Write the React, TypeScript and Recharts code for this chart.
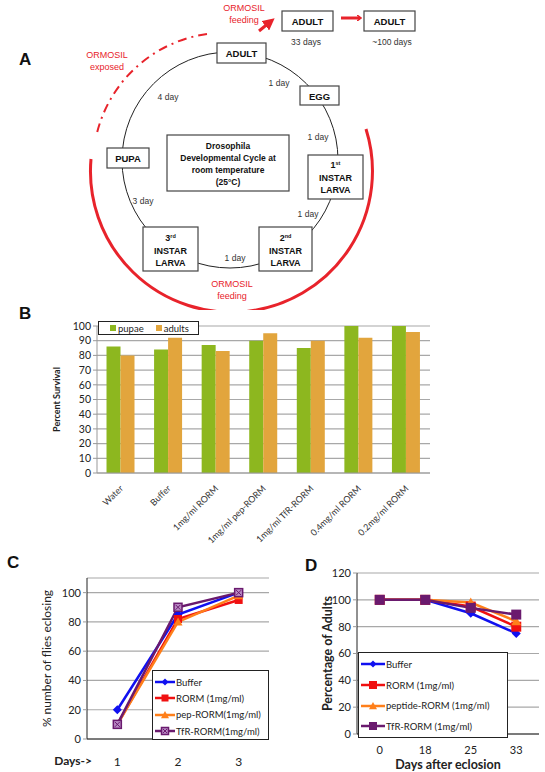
import React from 'react';
import {
    BarChart, Bar, LineChart, Line, XAxis, YAxis, CartesianGrid, Legend
} from 'recharts';

// Panel B - survival
const survivalCategories = ['Water', 'Buffer', '1mg/ml RORM', '1mg/ml pep-RORM', '1mg/ml TfR-RORM', '0.4mg/ml RORM', '0.2mg/ml RORM'];
const pupaeSurvival = [86, 84, 87, 90, 85, 100, 100];
const adultsSurvival = [80, 92, 83, 95, 90, 92, 96];
const survivalTicks = [0, 10, 20, 30, 40, 50, 60, 70, 80, 90, 100];

// Panel C - eclosion
const eclosionDays = ['1', '2', '3'];
const eclosionBuffer = [20, 85, 100];
const eclosionRorm = [10, 82, 95];
const eclosionPepRorm = [10, 80, 98];
const eclosionTfrRorm = [10, 90, 100];
const eclosionTicks = [0, 20, 40, 60, 80, 100];

// Panel D - adult survival
const adultDays = ['0', '18', '25', '33'];
const adultBuffer = [100, 100, 90, 75];
const adultRorm = [100, 100, 95, 80];
const adultPeptideRorm = [100, 100, 98, 84];
const adultTfrRorm = [100, 100, 94, 89];
const adultTicks = [0, 20, 40, 60, 80, 100, 120];

const survivalData = survivalCategories.map((name, i) => ({ name, pupae: pupaeSurvival[i], adults: adultsSurvival[i] }));
const eclosionData = eclosionDays.map((day, i) => ({
    day, buffer: eclosionBuffer[i], rorm: eclosionRorm[i], pep: eclosionPepRorm[i], tfr: eclosionTfrRorm[i]
}));
const adultData = adultDays.map((day, i) => ({
    day, buffer: adultBuffer[i], rorm: adultRorm[i], pep: adultPeptideRorm[i], tfr: adultTfrRorm[i]
}));

const BLUE = '#1010f0';
const RED = '#f01010';
const ORANGE = '#ff7f1a';
const PURPLE = '#6a1a6e';
const RED_DIAGRAM = '#e8232b';
const CHART_FONT = 'Lato, "Open Sans", sans-serif';
const DIAG_FONT = '"Liberation Sans", Arial, sans-serif';

// markers
const marker = (shape: string, color: string, size: number) => (props: any) => {
    const { cx, cy, index } = props;
    if (cx == null || cy == null) return <g key={index} />;
    const h = size / 2;
    if (shape === 'diamond') {
        return <polygon key={index} points={`${cx},${cy - h} ${cx + h},${cy} ${cx},${cy + h} ${cx - h},${cy}`} fill={color} />;
    }
    if (shape === 'triangle') {
        return <polygon key={index} points={`${cx},${cy - h} ${cx + h},${cy + h * 0.8} ${cx - h},${cy + h * 0.8}`} fill={color} />;
    }
    if (shape === 'xsquare') {
        return (
            <g key={index}>
                <rect x={cx - h} y={cy - h} width={size} height={size} fill="#b98ac4" stroke={color} strokeWidth={1.5} />
                <path d={`M${cx - h + 1.5},${cy - h + 1.5}L${cx + h - 1.5},${cy + h - 1.5}M${cx + h - 1.5},${cy - h + 1.5}L${cx - h + 1.5},${cy + h - 1.5}`} stroke={color} strokeWidth={1} />
            </g>
        );
    }
    return <rect key={index} x={cx - h} y={cy - h} width={size} height={size} fill={color} />;
};

const LegendIcon = ({ shape, color, size, len }: any) => (
    <svg width={len} height={12} style={{ display: 'block', flex: 'none' }}>
        <line x1={0} y1={6} x2={len} y2={6} stroke={color} strokeWidth={2.5} />
        {marker(shape, color, size)({ cx: len / 2, cy: 6, index: 0 })}
    </svg>
);

const lineLegend = (items: any[], rowGap: number, len: number, fontSize: number, padTop: number) => () => (
    <div style={{ border: '1px solid #222', background: '#fff', padding: `${padTop}px 2px 0 2px`, boxSizing: 'border-box', fontFamily: CHART_FONT, fontSize, color: '#222' }}>
        {items.map((it) => (
            <div key={it.label} style={{ display: 'flex', alignItems: 'center', height: rowGap }}>
                <LegendIcon shape={it.shape} color={it.color} size={it.size} len={len} />
                <span style={{ marginLeft: 1, whiteSpace: 'nowrap' }}>{it.label}</span>
            </div>
        ))}
    </div>
);

const SurvivalTick = ({ x, y, payload }: any) => (
    <text x={x + 3} y={y + 8} transform={`rotate(-45, ${x + 3}, ${y + 8})`} textAnchor="end" fontSize={9} fill="#333" fontFamily={CHART_FONT}>
        {payload.value}
    </text>
);

const survivalLegend = () => (
    <div style={{ display: 'flex', alignItems: 'center', border: '1px solid #222', background: '#fff', height: 12, width: 99, fontFamily: CHART_FONT, fontSize: 9.5, color: '#222' }}>
        <span style={{ width: 6, height: 6, background: '#8db71f', marginLeft: 11, marginRight: 2 }} />
        <span>pupae</span>
        <span style={{ width: 6, height: 6, background: '#e2a53d', marginLeft: 12, marginRight: 2 }} />
        <span>adults</span>
    </div>
);

const LifeCycle = () => (
    <svg width={545} height={310} style={{ position: 'absolute', left: 0, top: 0 }} fontFamily={DIAG_FONT}>
        <defs>
            <marker id="arrowHead" markerWidth="4" markerHeight="4" refX="2" refY="2" orient="auto">
                <path d="M0,0 L4,2 L0,4 z" fill={RED_DIAGRAM} />
            </marker>
            <marker id="chevron" markerWidth="5" markerHeight="6" refX="3" refY="3" orient="auto" markerUnits="userSpaceOnUse">
                <path d="M0,0 L4,3 L0,6" fill="none" stroke={RED_DIAGRAM} strokeWidth={1.5} />
            </marker>
        </defs>
        <text x={19} y={65} fontSize={17} fontWeight="bold" fill="#111">A</text>

        {/* top right adult progression */}
        <text x={244} y={11} fontSize={9} fill={RED_DIAGRAM} textAnchor="middle">ORMOSIL</text>
        <text x={244} y={23} fontSize={9} fill={RED_DIAGRAM} textAnchor="middle">feeding</text>
        <line x1={259} y1={31} x2={270} y2={22} stroke={RED_DIAGRAM} strokeWidth={3} markerEnd="url(#arrowHead)" />
        <rect x={282} y={11} width={51} height={20} fill="#fff" stroke="#444" strokeWidth={1.2} />
        <text x={307.5} y={25} fontSize={9.5} fontWeight="bold" textAnchor="middle" fill="#111">ADULT</text>
        <text x={306} y={45} fontSize={8.5} textAnchor="middle" fill="#333">33 days</text>
        <line x1={341} y1={18} x2={360} y2={18} stroke={RED_DIAGRAM} strokeWidth={3} markerEnd="url(#chevron)" />
        <rect x={364} y={11} width={51} height={20} fill="#fff" stroke="#444" strokeWidth={1.2} />
        <text x={389.5} y={25} fontSize={9.5} fontWeight="bold" textAnchor="middle" fill="#111">ADULT</text>
        <text x={392} y={45} fontSize={8.5} textAnchor="middle" fill="#333">~100 days</text>

        {/* exposure arcs */}
        <text x={107} y={58} fontSize={9} fill={RED_DIAGRAM} textAnchor="middle">ORMOSIL</text>
        <text x={107} y={70} fontSize={9} fill={RED_DIAGRAM} textAnchor="middle">exposed</text>
        <path d="M207,34 A132,132 0 0 0 97,133" fill="none" stroke={RED_DIAGRAM} strokeWidth={2} strokeDasharray="9 5 2 5" />
        <path d="M366,129 A141,141 0 1 1 91,159" fill="none" stroke={RED_DIAGRAM} strokeWidth={3} />
        <text x={232} y={287} fontSize={9} fill={RED_DIAGRAM} textAnchor="middle">ORMOSIL</text>
        <text x={232} y={299} fontSize={9} fill={RED_DIAGRAM} textAnchor="middle">feeding</text>

        {/* cycle */}
        <circle cx={230} cy={160} r={108} fill="none" stroke="#222" strokeWidth={1} />
        <rect x={217} y={43} width={49} height={20} fill="#fff" stroke="#444" strokeWidth={1.2} />
        <text x={241.5} y={57} fontSize={9.5} fontWeight="bold" textAnchor="middle" fill="#111">ADULT</text>
        <rect x={300} y={86} width={39} height={19} fill="#fff" stroke="#444" strokeWidth={1.2} />
        <text x={319.5} y={99.5} fontSize={9.5} fontWeight="bold" textAnchor="middle" fill="#111">EGG</text>
        <rect x={308} y={155} width={55} height={44} fill="#fff" stroke="#444" strokeWidth={1.2} />
        <text x={335.5} y={168} fontSize={9} fontWeight="bold" textAnchor="middle" fill="#111">1<tspan fontSize={5.5} dy={-3}>st</tspan></text>
        <text x={335.5} y={181} fontSize={9} fontWeight="bold" textAnchor="middle" fill="#111">INSTAR</text>
        <text x={335.5} y={193} fontSize={9} fontWeight="bold" textAnchor="middle" fill="#111">LARVA</text>
        <rect x={259} y={227} width={53} height={44} fill="#fff" stroke="#444" strokeWidth={1.2} />
        <text x={285.5} y={241} fontSize={9} fontWeight="bold" textAnchor="middle" fill="#111">2<tspan fontSize={5.5} dy={-3}>nd</tspan></text>
        <text x={285.5} y={254} fontSize={9} fontWeight="bold" textAnchor="middle" fill="#111">INSTAR</text>
        <text x={285.5} y={266} fontSize={9} fontWeight="bold" textAnchor="middle" fill="#111">LARVA</text>
        <rect x={143} y={227} width={55} height={44} fill="#fff" stroke="#444" strokeWidth={1.2} />
        <text x={170.5} y={241} fontSize={9} fontWeight="bold" textAnchor="middle" fill="#111">3<tspan fontSize={5.5} dy={-3}>rd</tspan></text>
        <text x={170.5} y={254} fontSize={9} fontWeight="bold" textAnchor="middle" fill="#111">INSTAR</text>
        <text x={170.5} y={266} fontSize={9} fontWeight="bold" textAnchor="middle" fill="#111">LARVA</text>
        <rect x={107} y={148} width={42} height={20} fill="#fff" stroke="#444" strokeWidth={1.2} />
        <text x={128} y={162} fontSize={9.5} fontWeight="bold" textAnchor="middle" fill="#111">PUPA</text>
        <rect x={167} y={135} width={122} height={56} fill="#fff" stroke="#444" strokeWidth={1.2} />
        <text x={228} y={149} fontSize={8.5} fontWeight="bold" textAnchor="middle" fill="#111">Drosophila</text>
        <text x={228} y={161} fontSize={8.5} fontWeight="bold" textAnchor="middle" fill="#111">Developmental Cycle at</text>
        <text x={228} y={173} fontSize={8.5} fontWeight="bold" textAnchor="middle" fill="#111">room temperature</text>
        <text x={228} y={185} fontSize={8.5} fontWeight="bold" textAnchor="middle" fill="#111">(25°C)</text>

        <text x={279} y={86} fontSize={8.5} textAnchor="middle" fill="#333">1 day</text>
        <text x={168} y={100} fontSize={8.5} textAnchor="middle" fill="#333">4 day</text>
        <text x={318} y={140} fontSize={8.5} textAnchor="middle" fill="#333">1 day</text>
        <text x={308} y={217} fontSize={8.5} textAnchor="middle" fill="#333">1 day</text>
        <text x={143} y={204} fontSize={8.5} textAnchor="middle" fill="#333">3 day</text>
        <text x={235} y={261} fontSize={8.5} textAnchor="middle" fill="#333">1 day</text>
    </svg>
);

const App: React.FC = () => {
    return (
        <div style={{ position: 'absolute', left: 0, top: 0, width: 545, height: 772, background: '#fff', overflow: 'hidden' }}>
            <LifeCycle />

            {/* Panel B */}
            <div style={{ position: 'absolute', left: 19, top: 304, fontFamily: DIAG_FONT, fontSize: 17, fontWeight: 'bold', color: '#111' }}>B</div>
            <div style={{ position: 'absolute', left: 0, top: 310 }}>
                <BarChart width={460} height={250} data={survivalData} margin={{ top: 16, right: 30, left: 0, bottom: 0 }} barCategoryGap="20%" barGap={0}>
                    <CartesianGrid vertical={false} stroke="#a8a8a8" strokeWidth={1.2} />
                    <XAxis dataKey="name" interval={0} height={87} tick={<SurvivalTick />} tickLine={false} axisLine={{ stroke: '#999' }} />
                    <YAxis width={97} domain={[0, 100]} ticks={survivalTicks} interval={0} tick={{ fontSize: 10.5, fill: '#222', fontFamily: CHART_FONT }} tickLine={{ stroke: '#999' }} tickSize={4} axisLine={{ stroke: '#999' }}
                        label={{ value: 'Percent Survival', angle: -90, position: 'center', dx: 8, fontSize: 9, fontWeight: 'bold', fill: '#222', fontFamily: CHART_FONT }} />
                    <Legend layout="horizontal" verticalAlign="middle" content={survivalLegend} wrapperStyle={{ left: 98, top: 11, width: 101 }} />
                    <Bar dataKey="pupae" name="pupae" fill="#8db71f" isAnimationActive={false} />
                    <Bar dataKey="adults" name="adults" fill="#e2a53d" isAnimationActive={false} />
                </BarChart>
            </div>

            {/* Panel C */}
            <div style={{ position: 'absolute', left: 7, top: 553, fontFamily: DIAG_FONT, fontSize: 17, fontWeight: 'bold', color: '#111' }}>C</div>
            <div style={{ position: 'absolute', left: 0, top: 560 }}>
                <LineChart width={280} height={212} data={eclosionData} margin={{ top: 18, right: 11, left: 0, bottom: 0 }}>
                    <CartesianGrid vertical={false} stroke="#a8a8a8" strokeWidth={1.2} />
                    <XAxis dataKey="day" scale="band" height={33} tickLine={false} tickMargin={12} axisLine={{ stroke: '#222' }}
                        tick={{ fontSize: 12, fill: '#222', fontFamily: CHART_FONT }}
                        label={{ value: 'Days->', position: 'left', offset: -5, dy: 5, fontSize: 12, fontWeight: 'bold', fill: '#222', fontFamily: CHART_FONT }} />
                    <XAxis xAxisId="top" orientation="top" dataKey="day" tick={false} tickLine={false} height={0} axisLine={{ stroke: '#222' }} />
                    <YAxis width={87} domain={[0, 110]} ticks={eclosionTicks} interval={0} tickSize={4} tickLine={{ stroke: '#999' }} axisLine={{ stroke: '#222' }}
                        tick={{ fontSize: 11, fill: '#222', fontFamily: CHART_FONT }}
                        label={{ value: '% number of flies eclosing', angle: -90, position: 'center', dx: 3, fontSize: 12, fill: '#222', fontFamily: CHART_FONT }} />
                    <YAxis yAxisId="right" orientation="right" domain={[0, 110]} tick={false} tickLine={false} width={0} axisLine={{ stroke: '#222' }} />
                    <Legend layout="horizontal" verticalAlign="middle" content={lineLegend([
                        { label: 'Buffer', color: BLUE, shape: 'diamond', size: 7 },
                        { label: 'RORM (1mg/ml)', color: RED, shape: 'square', size: 7 },
                        { label: 'pep-RORM(1mg/ml)', color: ORANGE, shape: 'triangle', size: 8 },
                        { label: 'TfR-RORM(1mg/ml)', color: PURPLE, shape: 'xsquare', size: 7 },
                    ], 16.3, 20, 9.5, 3)} wrapperStyle={{ left: 152, top: 110, width: 117 }} />
                    <Line dataKey="buffer" stroke={BLUE} strokeWidth={2.5} dot={marker('diamond', BLUE, 9)} isAnimationActive={false} />
                    <Line dataKey="rorm" stroke={RED} strokeWidth={2.5} dot={marker('square', RED, 8)} isAnimationActive={false} />
                    <Line dataKey="pep" stroke={ORANGE} strokeWidth={2.5} dot={marker('triangle', ORANGE, 9)} isAnimationActive={false} />
                    <Line dataKey="tfr" stroke={PURPLE} strokeWidth={2.5} dot={marker('xsquare', PURPLE, 8)} isAnimationActive={false} />
                </LineChart>
            </div>

            {/* Panel D */}
            <div style={{ position: 'absolute', left: 305, top: 556, fontFamily: DIAG_FONT, fontSize: 17, fontWeight: 'bold', color: '#111' }}>D</div>
            <div style={{ position: 'absolute', left: 270, top: 560 }}>
                <LineChart width={275} height={212} data={adultData} margin={{ top: 13, right: 6, left: 0, bottom: 0 }}>
                    <CartesianGrid vertical={false} stroke="#a8a8a8" strokeWidth={1.2} />
                    <XAxis dataKey="day" scale="band" height={38} tickLine={false} tickMargin={6} axisLine={{ stroke: '#222' }}
                        tick={{ fontSize: 11, fill: '#222', fontFamily: CHART_FONT }}
                        label={{ value: 'Days after eclosion', position: 'insideBottom', offset: 3, fontSize: 12.5, fontWeight: 'bold', fill: '#222', fontFamily: CHART_FONT }} />
                    <XAxis xAxisId="top" orientation="top" dataKey="day" tick={false} tickLine={false} height={0} axisLine={{ stroke: '#222' }} />
                    <YAxis width={87} domain={[0, 120]} ticks={adultTicks} interval={0} tickSize={4} tickLine={{ stroke: '#999' }} axisLine={{ stroke: '#222' }}
                        tick={{ fontSize: 11, fill: '#222', fontFamily: CHART_FONT }}
                        label={{ value: 'Percentage of Adults', angle: -90, position: 'center', dx: 14, fontSize: 12.5, fontWeight: 'bold', fill: '#222', fontFamily: CHART_FONT }} />
                    <YAxis yAxisId="right" orientation="right" domain={[0, 120]} tick={false} tickLine={false} width={0} axisLine={{ stroke: '#222' }} />
                    <Legend layout="horizontal" verticalAlign="middle" content={lineLegend([
                        { label: 'Buffer', color: BLUE, shape: 'diamond', size: 7 },
                        { label: 'RORM (1mg/ml)', color: RED, shape: 'square', size: 8 },
                        { label: 'peptide-RORM (1mg/ml)', color: ORANGE, shape: 'triangle', size: 8 },
                        { label: 'TfR-RORM (1mg/ml)', color: PURPLE, shape: 'square', size: 8 },
                    ], 20.7, 24, 9.5, 1)} wrapperStyle={{ left: 88, top: 92, width: 150 }} />
                    <Line dataKey="buffer" stroke={BLUE} strokeWidth={2.5} dot={marker('diamond', BLUE, 9)} isAnimationActive={false} />
                    <Line dataKey="rorm" stroke={RED} strokeWidth={2.5} dot={marker('square', RED, 10)} isAnimationActive={false} />
                    <Line dataKey="pep" stroke={ORANGE} strokeWidth={2.5} dot={marker('triangle', ORANGE, 10)} isAnimationActive={false} />
                    <Line dataKey="tfr" stroke={PURPLE} strokeWidth={2.5} dot={marker('square', PURPLE, 10)} isAnimationActive={false} />
                </LineChart>
            </div>
        </div>
    );
};

export default App;
